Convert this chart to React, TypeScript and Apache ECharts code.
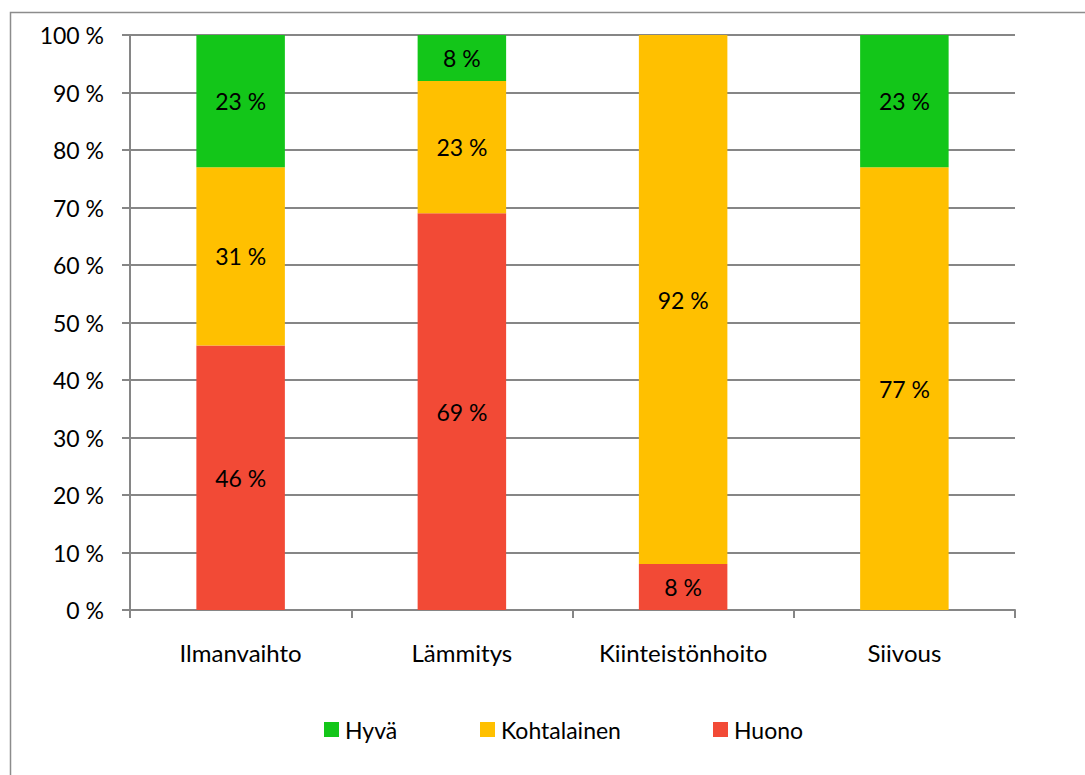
import React, { useEffect, useRef } from "react";
import * as echarts from "echarts";

const categories = ["Ilmanvaihto", "Lämmitys", "Kiinteistönhoito", "Siivous"];
const huono = [46, 69, 8, 0];
const kohtalainen = [31, 23, 92, 77];
const hyva = [23, 8, 0, 23];
const legendNames = ["Hyvä", "Kohtalainen", "Huono"];
const yTicks = [0, 10, 20, 30, 40, 50, 60, 70, 80, 90, 100];

const FONT = "Lato";
const legendLefts = [324, 480, 713];

export default function App() {
  const ref = useRef<HTMLDivElement>(null);
  useEffect(() => {
    if (!ref.current) return;
    const chart = echarts.init(ref.current, null, { renderer: "svg" });
    const label = {
      show: true,
      position: "inside" as const,
      color: "#000",
      fontFamily: FONT,
      fontSize: 23,
      formatter: (p: any) => (p.value ? `${p.value} %` : ""),
    };
    const mk = (name: string, data: number[], color: string) => ({
      name,
      type: "bar" as const,
      stack: "s",
      data,
      barWidth: "40%",
      itemStyle: { color },
      label,
    });
    chart.setOption({
      animation: false,
      backgroundColor: "#fff",
      textStyle: { fontFamily: FONT },
      graphic: [
        {
          type: "rect",
          shape: { x: 10.5, y: 12.5, width: 1100, height: 800 },
          style: { fill: "none", stroke: "#8c8c8c", lineWidth: 1.5 },
          silent: true,
        },
      ],
      grid: { left: 130, right: 70, top: 35, bottom: 165 },
      legend: legendNames.map((n, i) => ({
        data: [n],
        top: 718,
        left: legendLefts[i],
        padding: 0,
        icon: "rect",
        itemWidth: 15,
        itemHeight: 15,
        itemGap: 6,
        textStyle: { fontFamily: FONT, fontSize: 23, color: "#000", padding: [0, 0, 0, 1] },
      })),
      xAxis: {
        type: "category",
        data: categories,
        axisLine: { lineStyle: { color: "#868686", width: 2 } },
        axisTick: { show: true, length: 8, lineStyle: { color: "#868686", width: 2 } },
        axisLabel: { color: "#000", fontFamily: FONT, fontSize: 24, margin: 30 },
      },
      yAxis: {
        type: "value",
        min: 0,
        max: 100,
        interval: 10,
        axisLine: { show: true, lineStyle: { color: "#868686", width: 2 } },
        axisTick: { show: true, length: 8, lineStyle: { color: "#868686", width: 2 } },
        splitLine: { lineStyle: { color: "#868686", width: 2 } },
        axisLabel: {
          color: "#000",
          fontFamily: FONT,
          fontSize: 23,
          margin: 26,
          formatter: (v: number) => (yTicks.includes(v) ? `${v} %` : ""),
        },
      },
      series: [
        mk("Huono", huono, "#F24A36"),
        mk("Kohtalainen", kohtalainen, "#FFC000"),
        mk("Hyvä", hyva, "#13C619"),
      ],
    });
    return () => chart.dispose();
  }, []);
  return (
    <div
      ref={ref}
      style={{ position: "absolute", left: 0, top: 0, width: 1085, height: 775 }}
    />
  );
}
